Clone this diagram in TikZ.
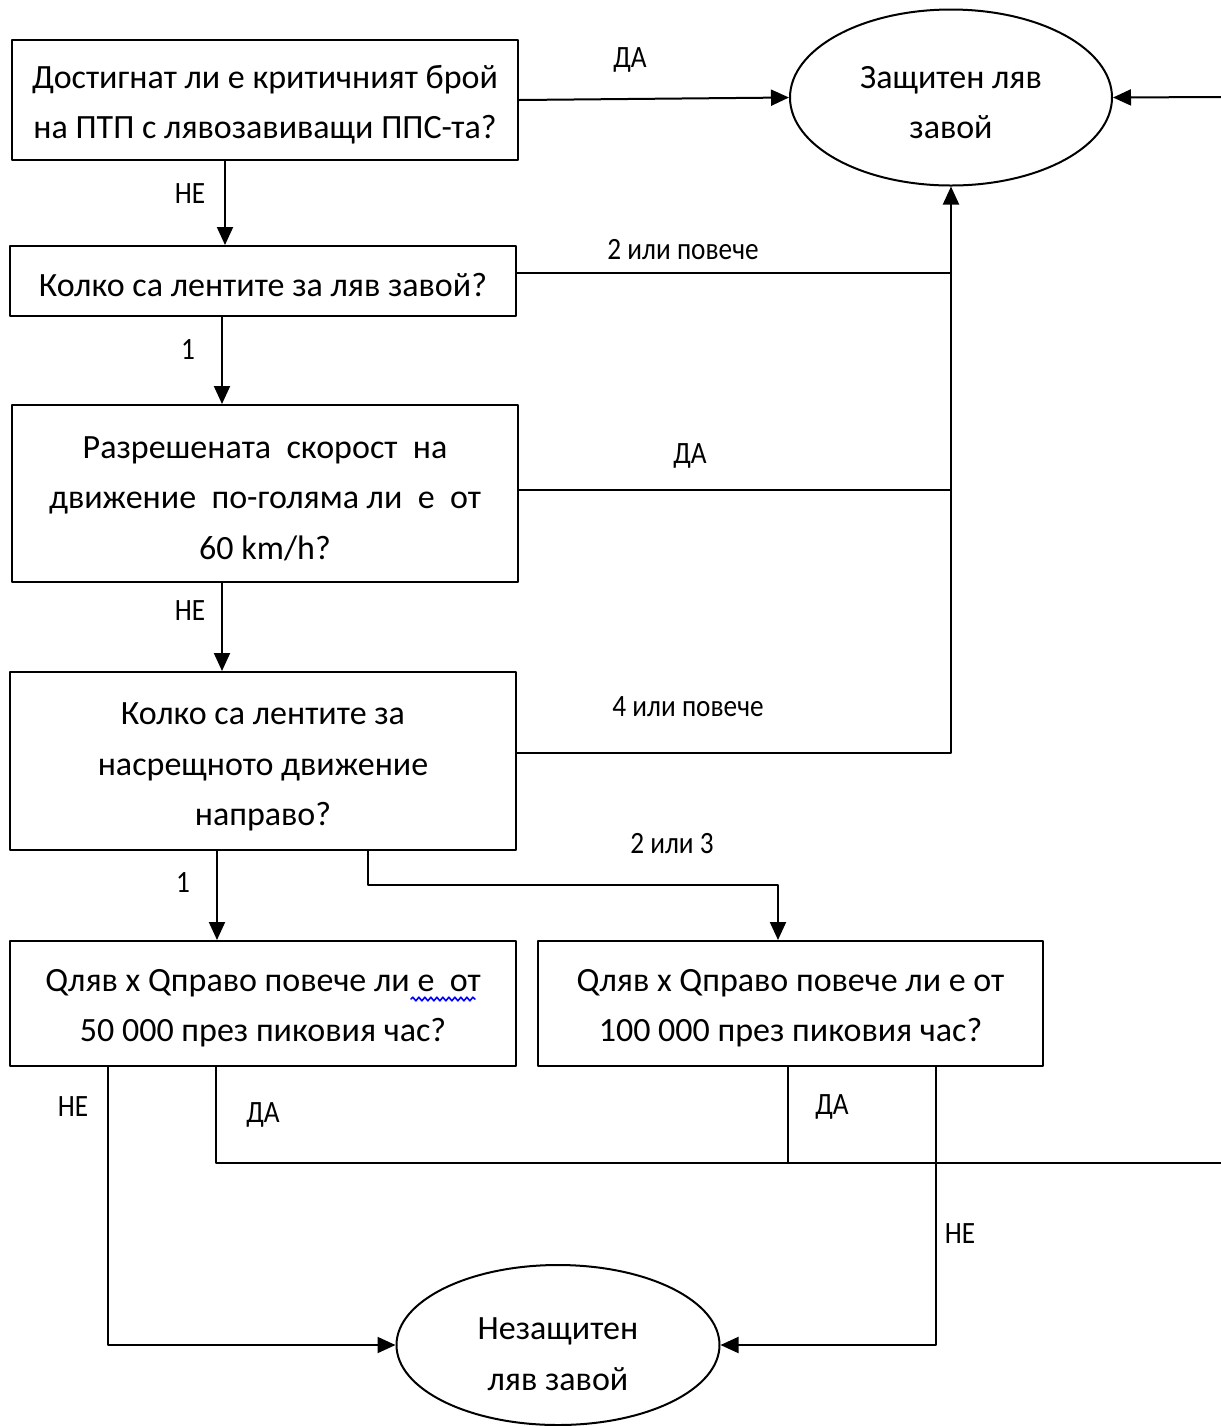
\documentclass[tikz,border=0pt]{standalone}
\usepackage{fontspec}
\setmainfont{Carlito}
\newfontfamily\lblfont[FakeStretch=0.88]{Carlito}
\usetikzlibrary{arrows.meta,shapes.geometric,decorations.pathmorphing}
\newcommand{\podpora}[1][16pt]{\rule{0pt}{#1}}

\tikzset{
  tekst/.style={align=center, inner sep=0pt, font=\fontsize{17}{25.2}\selectfont},
  kutia/.style={draw, line width=1pt, tekst, minimum width=253pt},
  krug/.style={draw, ellipse, line width=1pt, tekst},
  etiket/.style={font=\lblfont\fontsize{15.5}{18}\selectfont, inner sep=0pt},
  vrazka/.style={line width=1pt},
}

\begin{document}
\begin{tikzpicture}[line cap=round,line join=round,>={Triangle[length=9pt,width=8pt]},x=0.5pt,y=-0.5pt]
			\useasboundingbox (0,0) rectangle (1221,1426);
			%kutii
			\node[kutia, minimum height=60pt] (v1) at (265,100) {\podpora Достигнат ли е критичният брой\\на ПТП с лявозавиващи ППС-та?};
			\node[kutia, minimum height=35pt] (v2) at (263,281) {\podpora Колко са лентите за ляв завой?};
			\node[kutia, minimum height=88.5pt] (v3) at (265,493.5) {\podpora Разрешената\ \ скорост\ \ на\\движение\ \ по-голяма ли\ \ е\ \ от\\60 km/h?};
			\node[kutia, minimum height=89pt] (v4) at (263,761) {\podpora[17pt]Колко са лентите за\\насрещното движение\\направо?};
			\node[kutia, minimum height=62.5pt] (v5) at (263,1003.5) {\podpora Qляв x Qправо повече ли е\ \ от\\50 000 през пиковия час?};
			\node[kutia, minimum height=62.5pt, minimum width=252.5pt] (v6) at (790.5,1003.5) {\podpora Qляв x Qправо повече ли е от\\100 000 през пиковия час?};
			%krajni sastojanija
			\node[krug, minimum width=161pt, minimum height=88pt] (zasht) at (951,97.5) {\podpora Защитен ляв\\завой};
			\node[krug, minimum width=161.5pt, minimum height=80pt] (nezasht) at (558,1345) {\podpora[20pt]Незащитен\\ляв завой};
			\coordinate (dyasno) at (1221,97);
			\coordinate (izhod) at (1221,1163);
			%vrazki
			\draw [vrazka,->] (v1.east)-- (zasht.west);
			\draw [vrazka,->] (dyasno)-- (zasht.east);
			\draw [vrazka,->] ([xshift=-20pt]v1.south)-- ([xshift=-20pt]v1.south |- v2.north);
			\draw [vrazka] ([yshift=4pt]v2.east)-- ([yshift=4pt]v2.east -| zasht.south);
			\draw [vrazka,->] ([xshift=-20.5pt]v2.south)-- ([xshift=-20.5pt]v2.south |- v3.north);
			\draw [vrazka] ([yshift=2pt]v3.east)-- ([yshift=2pt]v3.east -| zasht.south);
			\draw [vrazka,->] ([xshift=-21.5pt]v3.south)-- ([xshift=-21.5pt]v3.south |- v4.north);
			\draw [vrazka,->] ([yshift=4pt]v4.east) -| (zasht.south);
			\draw [vrazka,->] ([xshift=-23pt]v4.south)-- ([xshift=-23pt]v4.south |- v5.north);
			\draw [vrazka,->] ([xshift=52.5pt]v4.south)-- ++(0,34) -| ([xshift=-6.25pt]v6.north);
			\draw [vrazka,->] ([xshift=-77.5pt]v5.south) |- (nezasht.west);
			\draw [vrazka] ([xshift=-23.5pt]v5.south) |- (izhod);
			\draw [vrazka] ([xshift=-1.25pt]v6.south)-- ([xshift=-1.25pt]v6.south |- izhod);
			\draw [vrazka,->] ([xshift=72.75pt]v6.south) |- (nezasht.east);
			%etiketi
			\node[etiket] (e1) at (630,60) {ДА};
			\node[etiket] (e2) at (190,194) {НЕ};
			\node[etiket] (e3) at (683,250) {2 или повече};
			\node[etiket] (e4) at (188,350) {1};
			\node[etiket] (e5) at (690,456) {ДА};
			\node[etiket] (e6) at (190,611) {НЕ};
			\node[etiket] (e7) at (688,707) {4 или повече};
			\node[etiket] (e8) at (672,844) {2 или 3};
			\node[etiket] (e9) at (183,883) {1};
			\node[etiket] (e10) at (73,1107) {НЕ};
			\node[etiket] (e11) at (263,1115) {ДА};
			\node[etiket] (e12) at (832,1107) {ДА};
			\node[etiket] (e13) at (960,1234) {НЕ};
			%pravopis
			\draw [blue, line width=0.8pt, decorate, decoration={snake, amplitude=0.9pt, segment length=3pt}] (411,999)-- (475,999);
\end{tikzpicture}
\end{document}
